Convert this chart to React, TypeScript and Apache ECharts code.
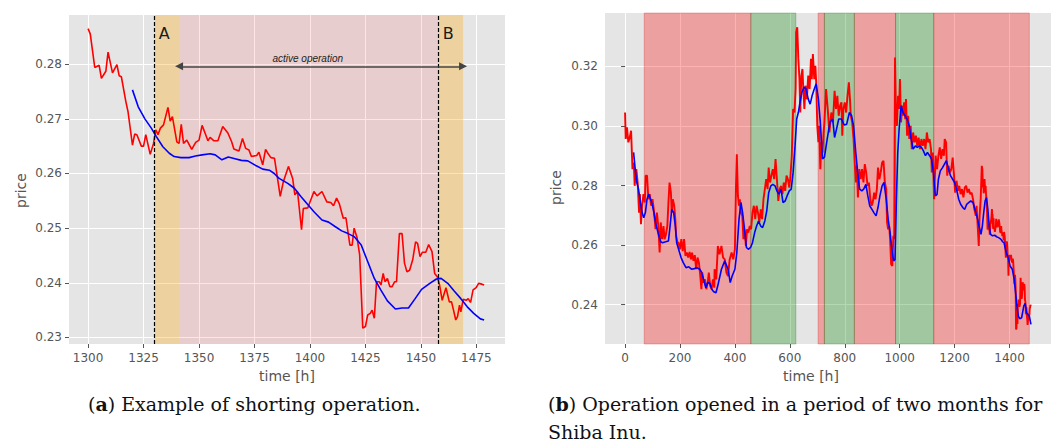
import React, { useEffect, useRef } from "react";
import * as echarts from "echarts";

// ---------- (a) example of shorting operation ----------
const leftRed: [number, number][] = [
  [1300, 0.2865], [1301, 0.2855], [1303, 0.2794], [1305, 0.2798], [1306, 0.2774], [1308, 0.2787], [1309, 0.2822],
  [1311, 0.2784], [1313, 0.2799], [1314, 0.2779], [1315, 0.2777], [1317, 0.2732], [1318, 0.2713], [1320, 0.2652],
  [1321, 0.2672], [1322, 0.2671], [1324, 0.265], [1325, 0.265], [1326, 0.2671], [1328, 0.2635], [1329.5, 0.2655],
  [1330.5, 0.268], [1331.5, 0.2671], [1332.6, 0.2683], [1334, 0.2689], [1336, 0.2721], [1337, 0.2696], [1338, 0.2704],
  [1340, 0.2658], [1341, 0.2655], [1342, 0.269], [1343, 0.2655], [1344.5, 0.2661], [1346.7, 0.2644], [1348.5, 0.2657],
  [1350, 0.2661], [1351.4, 0.2688], [1353, 0.2671], [1354, 0.266], [1355, 0.2666], [1356.6, 0.266], [1358.5, 0.266],
  [1360.7, 0.2686], [1363, 0.2674], [1364.7, 0.2658], [1365.7, 0.2645], [1368, 0.2641], [1369.6, 0.2664], [1371, 0.2646],
  [1372.5, 0.2643], [1373.6, 0.2631], [1376, 0.2633], [1377, 0.2639], [1378.7, 0.2616], [1380, 0.2644], [1381, 0.2637],
  [1382.4, 0.2629], [1384, 0.2628], [1386.6, 0.2558], [1388, 0.2585], [1390.3, 0.2613], [1392.2, 0.2591], [1393.2, 0.2561],
  [1394.4, 0.2567], [1396.2, 0.2497], [1397, 0.2536], [1399, 0.2537], [1401.8, 0.2567], [1403.2, 0.2559], [1405.4, 0.2567],
  [1407.6, 0.2548], [1409.4, 0.2547], [1410.6, 0.2541], [1412, 0.2555], [1413.2, 0.2545], [1415, 0.2518], [1416.2, 0.2519],
  [1418, 0.2469], [1419, 0.2469], [1419.9, 0.25], [1421.2, 0.2483], [1422.4, 0.2451], [1423.8, 0.2317], [1425, 0.232],
  [1426, 0.2341], [1427.2, 0.2344], [1428, 0.235], [1429, 0.2335], [1430, 0.2402], [1431.2, 0.2402], [1432, 0.2396],
  [1433, 0.2417], [1433.8, 0.2402], [1434.9, 0.2408], [1436, 0.2393], [1437, 0.2393], [1438.2, 0.2402], [1439, 0.2402],
  [1440.3, 0.249], [1441.5, 0.249], [1442.6, 0.2436], [1443.7, 0.242], [1444.9, 0.2423], [1446.3, 0.2442], [1447.6, 0.2475],
  [1448.5, 0.2472], [1449.6, 0.2448], [1450.7, 0.2456], [1452.2, 0.2456], [1453.5, 0.247], [1455, 0.2457], [1456.2, 0.2417],
  [1457.4, 0.2411], [1458.4, 0.2396], [1459.6, 0.2368], [1461.3, 0.2391], [1462.8, 0.2365], [1463.8, 0.2365], [1464.7, 0.235],
  [1465.7, 0.2332], [1466.5, 0.2338], [1467.4, 0.2359], [1468, 0.2347], [1469.1, 0.237], [1470.4, 0.2368], [1471.3, 0.2371],
  [1472.4, 0.2364], [1473.5, 0.2387], [1474.9, 0.2391], [1476, 0.2399], [1477, 0.2398], [1478.5, 0.2396],
];

const leftBlue: [number, number][] = [
  [1320, 0.2753], [1322.6, 0.2722], [1325.6, 0.27], [1328.5, 0.2683], [1330.7, 0.2668], [1333.7, 0.2649], [1336.6, 0.2637],
  [1338.8, 0.2631], [1341.8, 0.2629], [1345.5, 0.2629], [1348.4, 0.2632], [1351.4, 0.2634], [1355, 0.2636], [1357.3, 0.2634],
  [1360.3, 0.2625], [1363.2, 0.263], [1366.2, 0.2627], [1369.1, 0.2624], [1372, 0.2623], [1375.8, 0.2614], [1378.7, 0.2608],
  [1381.7, 0.2606], [1383.9, 0.26], [1386.1, 0.2591], [1390, 0.2582], [1393, 0.2573], [1395.9, 0.2558], [1398.8, 0.2544],
  [1401.8, 0.253], [1405.4, 0.2515], [1408.4, 0.2511], [1411.3, 0.2503], [1414.3, 0.2495], [1417.2, 0.249], [1420.1, 0.2484],
  [1423.1, 0.2469], [1426, 0.2439], [1429, 0.2408], [1431.9, 0.2387], [1434.9, 0.2367], [1438.5, 0.2352], [1441.5, 0.2354],
  [1444.4, 0.2354], [1447.4, 0.2371], [1450.3, 0.2388], [1454, 0.2399], [1457, 0.2407], [1459.1, 0.2408], [1462.1, 0.2399],
  [1465, 0.2385], [1468, 0.2371], [1470.9, 0.2356], [1473.8, 0.2344], [1476.8, 0.2334], [1478.5, 0.2332],
];

const leftXTicks = [1300, 1325, 1350, 1375, 1400, 1425, 1450, 1475];
const leftYTicks = [0.23, 0.24, 0.25, 0.26, 0.27, 0.28];
const entryExitTimes = [1330, 1458];
const entryBand = [1330, 1341];
const activeBand = [1341, 1458];
const exitBand = [1458, 1469];
const arrowSpan = [1341, 1469];
const arrowPrice = 0.2796;
const arrowTextAt: [number, number] = [1399, 0.281];

// ---------- (b) two months for Shiba Inu ----------
const rightRedEarly: [number, number][] = [
  [0, 0.3045], [2.5, 0.2956], [7, 0.2995], [12, 0.2945], [17, 0.2961], [22, 0.2984], [27, 0.2855], [32, 0.2877], [35, 0.2799],
  [41, 0.2855], [46, 0.281], [51, 0.2709], [54, 0.2771], [58, 0.267], [62, 0.2732], [67, 0.2771], [72, 0.2743], [75, 0.2833],
  [80, 0.2833], [85, 0.2754], [90, 0.2771], [95, 0.2732], [100, 0.2754], [106, 0.2709], [111, 0.2653], [116, 0.2709],
  [121, 0.2664], [126, 0.2575], [130, 0.2676], [135, 0.262], [140, 0.2664], [144, 0.262], [149, 0.2636], [154, 0.2664],
  [158, 0.2743], [162, 0.281], [167, 0.2776], [170, 0.2709], [174, 0.2754], [179, 0.2732], [183, 0.2687], [186, 0.2631],
  [191, 0.2608], [195, 0.2608], [200, 0.2586], [205, 0.262], [210, 0.258], [215, 0.262], [220, 0.2564], [225, 0.2575],
  [230, 0.2558], [235, 0.2577], [240, 0.2552], [244, 0.2575], [249, 0.2547], [254, 0.2566], [259, 0.2519], [264, 0.2558],
  [269, 0.2541], [274, 0.2496], [278, 0.2452], [281, 0.2508], [286, 0.2474], [291, 0.2485], [296, 0.2452], [301, 0.2474],
  [305, 0.2508], [310, 0.2463], [315, 0.2452], [320, 0.2485], [325, 0.2457],
  [326, 0.2519], [332, 0.2485], [338, 0.2597], [344, 0.2569], [351, 0.2597], [357, 0.2558], [363, 0.2552], [369, 0.2508],
  [375, 0.2496], [381, 0.2552], [388, 0.2575], [394, 0.2552], [400, 0.2586], [404, 0.2799], [407, 0.2905], [411, 0.2765],
  [415, 0.2732], [418, 0.2754], [422, 0.2709], [427, 0.2698], [431, 0.262], [435, 0.2653], [440, 0.2597], [444, 0.2653],
  [449, 0.2642], [454, 0.2664], [459, 0.2653], [464, 0.2709], [469, 0.2732], [474, 0.2687], [479, 0.2732], [484, 0.2709],
  [489, 0.2676], [494, 0.272], [499, 0.2687], [504, 0.2754], [509, 0.2788], [514, 0.2821], [519, 0.2788], [523, 0.286],
  [528, 0.281], [533, 0.2833], [538, 0.2855], [543, 0.2821], [548, 0.2889], [553, 0.2821], [558, 0.2748], [563, 0.2788],
  [568, 0.2799], [573, 0.2771], [578, 0.281], [583, 0.2782], [588, 0.2833], [593, 0.2821], [598, 0.2793], [602, 0.2827],
  [607, 0.29], [612, 0.3057], [617, 0.3045], [621, 0.3124], [623, 0.3314], [627, 0.3331], [631, 0.3225], [635, 0.3157],
  [638, 0.3045], [642, 0.3169], [646, 0.3191], [649, 0.3124], [653, 0.3057], [657, 0.3135], [662, 0.309], [667, 0.3169],
  [672, 0.3124], [677, 0.3225], [680, 0.3157], [684, 0.3241], [689, 0.3157], [693, 0.3202], [696, 0.3146], [700, 0.3],
  [704, 0.2945], [707, 0.3], [711, 0.2855], [715, 0.2945], [719, 0.2911], [723, 0.2978],
  [726, 0.3012], [732, 0.3124], [738, 0.3057], [744, 0.2978], [751, 0.3045], [757, 0.3012], [763, 0.3118], [768, 0.3057],
  [773, 0.3101], [778, 0.3034], [783, 0.3068], [788, 0.3079], [791, 0.2967], [795, 0.3057], [800, 0.3079], [805, 0.3045],
  [810, 0.3101], [815, 0.3146], [819, 0.309], [822, 0.3034], [827, 0.3012], [832, 0.2956], [837, 0.2866], [841, 0.281],
  [844, 0.2866], [848, 0.276], [853, 0.2855], [858, 0.2821], [863, 0.2855], [868, 0.281], [873, 0.2872], [878, 0.2844],
  [883, 0.2799], [888, 0.281], [893, 0.2754], [898, 0.2732], [902, 0.2743], [907, 0.2776], [912, 0.2754], [917, 0.2788],
  [921, 0.286], [926, 0.2821], [931, 0.2844], [936, 0.2877], [941, 0.2883], [946, 0.281], [951, 0.2788], [954, 0.2676],
  [958, 0.2653], [962, 0.2664], [965, 0.262], [969, 0.2536], [973, 0.253], [977, 0.2631], [980, 0.262], [983, 0.323],
  [986, 0.3068], [990, 0.3], [994, 0.3101], [998, 0.3057], [1001, 0.3157], [1005, 0.3012], [1009, 0.3068], [1012, 0.3034],
  [1016, 0.3079], [1020, 0.3023], [1023, 0.309], [1027, 0.2967], [1031, 0.3034], [1035, 0.2956], [1040, 0.3], [1044, 0.2922],
  [1049, 0.2978], [1054, 0.2945], [1059, 0.2967], [1064, 0.2933], [1069, 0.2961], [1074, 0.2922], [1079, 0.2956],
  [1084, 0.2933], [1089, 0.2956], [1094, 0.2922], [1099, 0.2978], [1104, 0.2945], [1109, 0.2956], [1114, 0.2922],
  [1117, 0.2844], [1121, 0.2911], [1125, 0.2754],
  [1128, 0.2821], [1131, 0.29], [1136, 0.2855], [1141, 0.29], [1146, 0.2928], [1151, 0.2889], [1156, 0.2922], [1161, 0.29],
  [1164, 0.2956], [1169, 0.2945], [1173, 0.2833], [1178, 0.2866], [1183, 0.2844], [1188, 0.2855], [1193, 0.2894],
  [1198, 0.2833], [1202, 0.2776], [1207, 0.2816], [1212, 0.2782], [1217, 0.2799], [1222, 0.2771], [1227, 0.2788],
  [1232, 0.276], [1237, 0.2793], [1242, 0.2799], [1247, 0.2776], [1252, 0.2788], [1257, 0.2771], [1262, 0.2776],
  [1267, 0.2754], [1272, 0.272], [1277, 0.2698], [1280, 0.2732], [1284, 0.2664], [1288, 0.2597], [1291, 0.2698],
  [1295, 0.2754], [1299, 0.2866],
];

const rightBlue: [number, number][] = [
  [31, 0.2911], [37, 0.2855], [43, 0.281], [49, 0.2788], [56, 0.2743], [62, 0.2709], [68, 0.2692], [74, 0.2709], [80, 0.2754],
  [86, 0.2771], [93, 0.2754], [99, 0.2737], [105, 0.2709], [111, 0.2676], [117, 0.2653], [123, 0.2631], [130, 0.2611],
  [136, 0.2608], [148, 0.2611], [158, 0.2614], [164, 0.2664], [170, 0.272], [177, 0.2709], [183, 0.2664], [188, 0.2608],
  [195, 0.2586], [204, 0.2558], [212, 0.2541], [222, 0.2524], [232, 0.2527], [242, 0.2519], [252, 0.2521], [262, 0.2524],
  [272, 0.2519], [279, 0.2508], [286, 0.2485], [294, 0.2457], [301, 0.2474], [309, 0.2472], [316, 0.2452], [323, 0.2443],
  [331, 0.244], [338, 0.2465], [351, 0.2519], [363, 0.2547], [375, 0.2519], [383, 0.2474], [390, 0.2496], [400, 0.2519],
  [407, 0.2575], [415, 0.2687], [422, 0.2743], [428, 0.2709], [435, 0.2653], [442, 0.2592], [449, 0.2586], [457, 0.2592],
  [464, 0.2608], [472, 0.2642], [479, 0.2664], [486, 0.2681], [494, 0.2664], [501, 0.2659], [509, 0.2681], [516, 0.2715],
  [523, 0.2776], [531, 0.2799], [538, 0.2804], [546, 0.2799], [553, 0.2782], [560, 0.2771], [568, 0.2788], [575, 0.2743],
  [583, 0.2748], [590, 0.2765], [598, 0.2782], [605, 0.2788], [612, 0.2844], [619, 0.2933], [625, 0.3023], [631, 0.3045],
  [637, 0.3079], [644, 0.3113], [652, 0.313], [659, 0.3124], [667, 0.309], [674, 0.3073], [681, 0.3101], [689, 0.3124],
  [696, 0.3141], [704, 0.309], [711, 0.3012], [719, 0.2889],
  [726, 0.2895], [736, 0.2956], [746, 0.3012], [756, 0.3023], [763, 0.2961], [770, 0.2989], [778, 0.3023], [788, 0.3023],
  [798, 0.3003], [807, 0.3006], [817, 0.3045], [825, 0.3034], [832, 0.3], [840, 0.2911], [847, 0.2844], [854, 0.2788],
  [862, 0.2782], [869, 0.2788], [877, 0.2804], [884, 0.2765], [891, 0.2732], [899, 0.272], [906, 0.2709], [914, 0.2698],
  [921, 0.2726], [928, 0.2765], [936, 0.2799], [943, 0.281], [951, 0.2754], [958, 0.2687], [965, 0.2642], [973, 0.2575],
  [978, 0.2547], [983, 0.2552], [988, 0.2754], [993, 0.2911], [998, 0.2989], [1005, 0.3068], [1012, 0.3045], [1020, 0.3034],
  [1027, 0.3023], [1035, 0.3], [1042, 0.2956], [1049, 0.2922], [1057, 0.2933], [1064, 0.2928], [1072, 0.2933],
  [1079, 0.2928], [1086, 0.2917], [1094, 0.29], [1101, 0.2911], [1109, 0.29], [1116, 0.2889], [1123, 0.2844],
  [1130, 0.2765], [1136, 0.277], [1141, 0.2821], [1148, 0.2849], [1156, 0.286], [1163, 0.2872], [1170, 0.2883],
  [1178, 0.2855], [1185, 0.2833], [1193, 0.2821], [1200, 0.281], [1207, 0.2788], [1215, 0.2754], [1222, 0.2737],
  [1230, 0.2726], [1237, 0.272], [1244, 0.2737], [1252, 0.2743], [1259, 0.2748], [1267, 0.2743], [1274, 0.272],
  [1281, 0.2698], [1289, 0.2664], [1296, 0.2636], [1301, 0.2664], [1306, 0.2709], [1311, 0.2748], [1316, 0.276],
  [1321, 0.272], [1326, 0.2664], [1331, 0.2636], [1338, 0.2631], [1346, 0.2633], [1353, 0.2628], [1360, 0.2625],
  [1368, 0.262], [1375, 0.2611], [1380, 0.2608], [1388, 0.2575], [1395, 0.2558], [1402, 0.253], [1410, 0.2519],
  [1417, 0.2485], [1422, 0.244], [1427, 0.2396], [1432, 0.2362], [1437, 0.2353], [1444, 0.2356], [1452, 0.2396],
  [1457, 0.2404], [1462, 0.2373], [1467, 0.2367], [1472, 0.2362], [1478, 0.2334],
];

const rightXTicks = [0, 200, 400, 600, 800, 1000, 1200, 1400];
const rightYTicks = [0.24, 0.26, 0.28, 0.3, 0.32];
const shortBands: [number, number][] = [[70, 458], [703, 726], [835, 985], [1124, 1472]];
const longBands: [number, number][] = [[458, 622], [726, 835], [985, 1124]];

const captionA = "{p|(}{b|a}{p|)}{p| Example of shorting operation.}";
const captionB1 = "{p|(}{b|b}{p|)}{p| Operation opened in a period of two months for}";
const captionB2 = "Shiba Inu.";

const GRAY = "#555555";
const SANS = "DejaVu Sans";
const SERIF = "DejaVu Serif";

function makeAxis(gridIndex: number, min: number, max: number, ticks: number[], isY: boolean, name: string, nameGap: number, namePad?: number[]) {
  return {
    type: "value",
    gridIndex,
    min,
    max,
    name,
    nameLocation: "middle",
    nameGap,
    nameTextStyle: { color: GRAY, fontSize: 14, fontFamily: SANS, padding: namePad || 0 },
    axisLine: { show: false },
    axisTick: { show: true, length: 4, customValues: ticks, lineStyle: { color: GRAY, width: 1 } },
    axisLabel: {
      customValues: ticks,
      color: GRAY,
      fontSize: 12,
      fontFamily: SANS,
      margin: isY ? 7 : 8,
      formatter: isY ? (v: number) => v.toFixed(2) : (v: number) => String(v),
    },
    splitLine: { show: true, lineStyle: { color: "#ffffff", width: 1 } },
  };
}

export default function App() {
  const ref = useRef<HTMLDivElement>(null);
  useEffect(() => {
    if (!ref.current) return;
    const chart = echarts.init(ref.current, undefined, { renderer: "svg" });
    const rich = {
      p: { fontFamily: SERIF, fontSize: 19, color: "#111" },
      b: { fontFamily: SERIF, fontSize: 19, fontWeight: "bold", color: "#111" },
    };
    const option: any = {
      animation: false,
      backgroundColor: "#ffffff",
      grid: [
        { left: 69, top: 15, width: 436, height: 329, show: true, backgroundColor: "#E5E5E5", borderWidth: 0 },
        { left: 605, top: 13, width: 446, height: 331, show: true, backgroundColor: "#E5E5E5", borderWidth: 0 },
      ],
      xAxis: [
        makeAxis(0, 1291.4, 1487.9, leftXTicks, false, "time [h]", 24),
        makeAxis(1, -73, 1551, rightXTicks, false, "time [h]", 24, [0, 34, 0, 0]),
      ],
      yAxis: [
        makeAxis(0, 0.2288, 0.289, leftYTicks, true, "price", 41, [0, 22, 0, 0]),
        makeAxis(1, 0.2268, 0.3379, rightYTicks, true, "price", 42, [0, 18, 0, 0]),
      ],
      series: [
        {
          type: "line",
          xAxisIndex: 0,
          yAxisIndex: 0,
          data: leftRed,
          showSymbol: false,
          lineStyle: { color: "#ff0000", width: 1.6 },
          itemStyle: { color: "#ff0000" },
          z: 3,
          markArea: {
            silent: true,
            data: [
              [
                {
                  xAxis: entryBand[0],
                  itemStyle: { color: "rgba(255,165,0,0.3)" },
                  label: { show: true, formatter: "A", position: "insideTopLeft", distance: 4, offset: [0, 6], color: "#1a1a1a", fontSize: 16, fontFamily: SANS },
                },
                { xAxis: entryBand[1] },
              ],
              [{ xAxis: activeBand[0], itemStyle: { color: "rgba(255,0,0,0.1)" }, label: { show: false } }, { xAxis: activeBand[1] }],
              [
                {
                  xAxis: exitBand[0],
                  itemStyle: { color: "rgba(255,165,0,0.3)" },
                  label: { show: true, formatter: "B", position: "insideTopLeft", distance: 4, offset: [0, 6], color: "#1a1a1a", fontSize: 16, fontFamily: SANS },
                },
                { xAxis: exitBand[1] },
              ],
            ],
          },
          markLine: {
            silent: true,
            symbol: ["none", "none"],
            label: { show: false },
            lineStyle: { color: "#000000", type: [4, 2], width: 1.2 },
            data: entryExitTimes.map((t) => ({ xAxis: t })),
          },
        },
        {
          type: "line",
          xAxisIndex: 0,
          yAxisIndex: 0,
          data: leftBlue,
          showSymbol: false,
          lineStyle: { color: "#0000ff", width: 1.6 },
          itemStyle: { color: "#0000ff" },
          z: 4,
          markLine: {
            silent: true,
            symbol: ["triangle", "triangle"],
            symbolSize: 8,
            label: { show: false },
            lineStyle: { color: "#444444", type: "solid", width: 1.5 },
            itemStyle: { color: "#444444" },
            data: [[{ coord: [arrowSpan[0], arrowPrice] }, { coord: [arrowSpan[1], arrowPrice] }]],
          },
          markPoint: {
            silent: true,
            symbol: "circle",
            symbolSize: 1,
            itemStyle: { color: "rgba(0,0,0,0)" },
            label: { show: true, position: "inside", formatter: "active operation", fontStyle: "italic", fontSize: 10, fontFamily: "Liberation Sans", color: "#222" },
            data: [{ coord: arrowTextAt }],
          },
        },
        {
          type: "line",
          xAxisIndex: 1,
          yAxisIndex: 1,
          data: rightRedEarly.concat(leftRed),
          showSymbol: false,
          lineStyle: { color: "#ff0000", width: 1.9 },
          itemStyle: { color: "#ff0000" },
          z: 3,
          markArea: {
            silent: true,
            data: [
              ...shortBands.map((b) => [
                { xAxis: b[0], itemStyle: { color: "rgba(255,0,0,0.3)", borderColor: "rgba(200,0,0,0.25)", borderWidth: 1 } },
                { xAxis: b[1] },
              ]),
              ...longBands.map((b) => [
                { xAxis: b[0], itemStyle: { color: "rgba(0,128,0,0.3)", borderColor: "rgba(0,100,0,0.25)", borderWidth: 1 } },
                { xAxis: b[1] },
              ]),
            ],
          },
        },
        {
          type: "line",
          xAxisIndex: 1,
          yAxisIndex: 1,
          data: rightBlue,
          showSymbol: false,
          lineStyle: { color: "#0000ff", width: 1.6 },
          itemStyle: { color: "#0000ff" },
          z: 4,
        },
      ],
      graphic: [
        { type: "text", x: 88, y: 404, style: { text: captionA, rich, fontFamily: SERIF, fontSize: 19, fill: "#111", verticalAlign: "middle" } },
        { type: "text", x: 548, y: 404, style: { text: captionB1, rich, fontFamily: SERIF, fontSize: 19, fill: "#111", verticalAlign: "middle" } },
        { type: "text", x: 548, y: 432, style: { text: captionB2, fontFamily: SERIF, fontSize: 19, fill: "#111", verticalAlign: "middle" } },
      ],
    };
    chart.setOption(option);
    return () => chart.dispose();
  }, []);
  return <div ref={ref} style={{ position: "absolute", left: 0, top: 0, width: 1062, height: 442 }} />;
}
